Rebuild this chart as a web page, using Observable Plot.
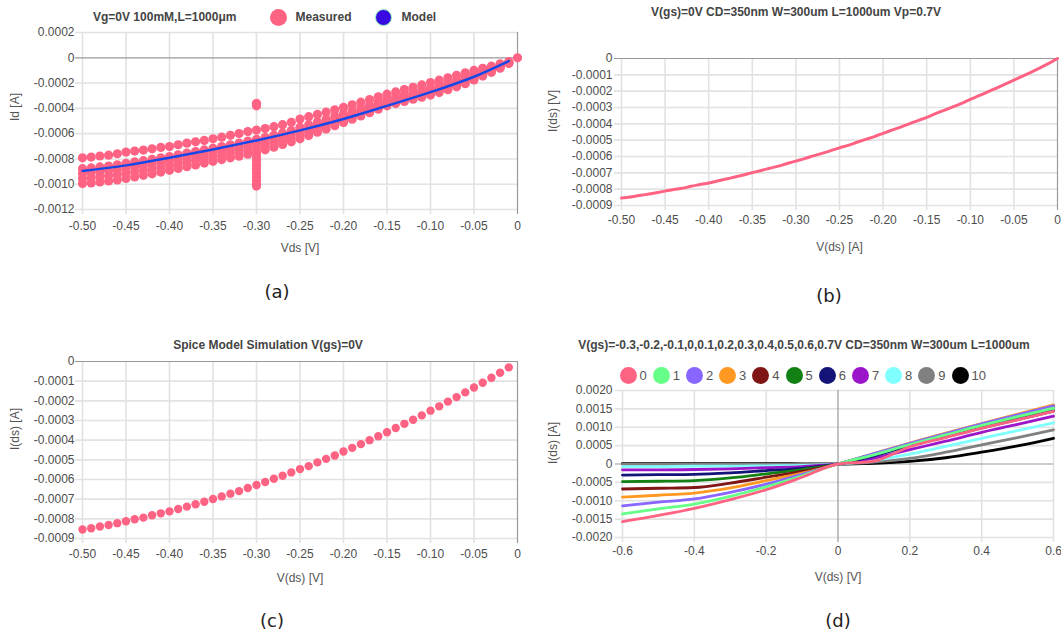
<!DOCTYPE html>
<html><head><meta charset="utf-8">
<script src="https://cdn.jsdelivr.net/npm/d3@7"></script>
<script src="https://cdn.jsdelivr.net/npm/@observablehq/plot@0.6"></script>
<style>
body{margin:0;background:#fff;}
#root{position:relative;width:1061px;height:637px;overflow:hidden;font-family:"Liberation Sans",Arial,sans-serif;}
.panel{position:absolute;}
.title{position:absolute;font:bold 12px "Liberation Sans",Arial,sans-serif;color:#444;white-space:nowrap;line-height:14px;}
.cap{position:absolute;font:18px "DejaVu Sans",sans-serif;color:#222;transform:translate(-50%,-50%);white-space:nowrap;}
.lg{position:absolute;display:flex;align-items:center;white-space:nowrap;font-size:13px;color:#555;}
.sw{display:inline-block;width:17px;height:17px;border-radius:50%;box-sizing:border-box;}
</style></head><body><div id="root"></div>
<script>
// ---------- Panel (a): measured sweeps and model ----------
const vds = [-0.50,-0.49,-0.48,-0.47,-0.46,-0.45,-0.44,-0.43,-0.42,-0.41,-0.40,-0.39,-0.38,-0.37,-0.36,-0.35,-0.34,-0.33,-0.32,-0.31,-0.30,-0.29,-0.28,-0.27,-0.26,-0.25,-0.24,-0.23,-0.22,-0.21,-0.20,-0.19,-0.18,-0.17,-0.16,-0.15,-0.14,-0.13,-0.12,-0.11,-0.10,-0.09,-0.08,-0.07,-0.06,-0.05,-0.04,-0.03,-0.02,-0.01];
const measTop = [-7.91e-4,-7.85e-4,-7.77e-4,-7.70e-4,-7.59e-4,-7.46e-4,-7.38e-4,-7.30e-4,-7.20e-4,-7.09e-4,-7.02e-4,-6.88e-4,-6.75e-4,-6.65e-4,-6.54e-4,-6.41e-4,-6.28e-4,-6.13e-4,-5.99e-4,-5.84e-4,-5.71e-4,-5.60e-4,-5.45e-4,-5.29e-4,-5.10e-4,-4.84e-4,-4.66e-4,-4.48e-4,-4.30e-4,-4.12e-4,-3.93e-4,-3.72e-4,-3.51e-4,-3.30e-4,-3.09e-4,-2.88e-4,-2.70e-4,-2.51e-4,-2.33e-4,-2.15e-4,-1.96e-4,-1.77e-4,-1.58e-4,-1.38e-4,-1.19e-4,-1.00e-4,-0.83e-4,-0.66e-4,-0.48e-4,-0.31e-4];
const meas2 = [-8.77e-4,-8.71e-4,-8.63e-4,-8.56e-4,-8.46e-4,-8.34e-4,-8.24e-4,-8.14e-4,-8.03e-4,-7.91e-4,-7.81e-4,-7.67e-4,-7.54e-4,-7.42e-4,-7.29e-4,-7.16e-4,-7.02e-4,-6.88e-4,-6.74e-4,-6.59e-4,-6.44e-4,-6.31e-4,-6.13e-4,-5.95e-4,-5.75e-4,-5.50e-4,-5.29e-4,-5.07e-4,-4.86e-4,-4.65e-4,-4.43e-4,-4.20e-4,-3.97e-4,-3.74e-4,-3.50e-4,-3.27e-4,-3.09e-4,-2.90e-4,-2.73e-4,-2.56e-4,-2.38e-4,-2.18e-4,-1.98e-4,-1.77e-4,-1.55e-4,-1.32e-4,-1.09e-4,-0.87e-4,-0.62e-4,-0.37e-4];
const meas3 = [-9.15e-4,-9.10e-4,-9.02e-4,-8.94e-4,-8.85e-4,-8.73e-4,-8.62e-4,-8.52e-4,-8.41e-4,-8.28e-4,-8.17e-4,-8.02e-4,-7.89e-4,-7.77e-4,-7.63e-4,-7.50e-4,-7.36e-4,-7.22e-4,-7.08e-4,-6.93e-4,-6.77e-4,-6.62e-4,-6.44e-4,-6.25e-4,-6.05e-4,-5.80e-4,-5.57e-4,-5.34e-4,-5.11e-4,-4.88e-4,-4.66e-4,-4.42e-4,-4.17e-4,-3.93e-4,-3.69e-4,-3.44e-4,-3.26e-4,-3.08e-4,-2.91e-4,-2.74e-4,-2.56e-4,-2.37e-4,-2.16e-4,-1.94e-4,-1.71e-4,-1.46e-4,-1.21e-4,-0.96e-4,-0.69e-4,-0.40e-4];
const meas4 = [-9.54e-4,-9.49e-4,-9.41e-4,-9.33e-4,-9.25e-4,-9.13e-4,-9.01e-4,-8.90e-4,-8.78e-4,-8.65e-4,-8.52e-4,-8.38e-4,-8.25e-4,-8.11e-4,-7.97e-4,-7.83e-4,-7.70e-4,-7.55e-4,-7.42e-4,-7.26e-4,-7.10e-4,-6.94e-4,-6.75e-4,-6.55e-4,-6.34e-4,-6.10e-4,-5.85e-4,-5.61e-4,-5.36e-4,-5.12e-4,-4.88e-4,-4.63e-4,-4.38e-4,-4.13e-4,-3.87e-4,-3.62e-4,-3.44e-4,-3.26e-4,-3.09e-4,-2.93e-4,-2.75e-4,-2.55e-4,-2.34e-4,-2.12e-4,-1.88e-4,-1.60e-4,-1.33e-4,-1.05e-4,-0.75e-4,-0.42e-4];
const measBottom = [-9.95e-4,-9.90e-4,-9.82e-4,-9.74e-4,-9.66e-4,-9.55e-4,-9.42e-4,-9.30e-4,-9.18e-4,-9.04e-4,-8.90e-4,-8.75e-4,-8.62e-4,-8.48e-4,-8.33e-4,-8.19e-4,-8.05e-4,-7.91e-4,-7.78e-4,-7.62e-4,-7.45e-4,-7.28e-4,-7.07e-4,-6.86e-4,-6.65e-4,-6.41e-4,-6.15e-4,-5.89e-4,-5.63e-4,-5.37e-4,-5.12e-4,-4.86e-4,-4.60e-4,-4.34e-4,-4.07e-4,-3.80e-4,-3.62e-4,-3.45e-4,-3.28e-4,-3.12e-4,-2.95e-4,-2.75e-4,-2.53e-4,-2.30e-4,-2.05e-4,-1.75e-4,-1.45e-4,-1.15e-4,-0.82e-4,-0.45e-4];
// extra measured points: the long column at -0.30 V and the origin point
const measExtraV = [-0.30,-0.30,-0.30,-0.30,-0.30,-0.30,-0.30,-0.30,-0.30,-0.30,-0.30,-0.30,0];
const measExtraI = [-7.6e-4,-7.9e-4,-8.2e-4,-8.5e-4,-8.8e-4,-9.1e-4,-9.4e-4,-9.7e-4,-10.0e-4,-10.15e-4,-3.6e-4,-3.8e-4,0];
const modelV = [-0.50,-0.45,-0.40,-0.35,-0.30,-0.25,-0.20,-0.15,-0.10,-0.05,-0.01];
const modelI = [-8.95e-4,-8.51e-4,-7.91e-4,-7.25e-4,-6.54e-4,-5.74e-4,-4.84e-4,-3.80e-4,-2.72e-4,-1.50e-4,-0.26e-4];

// ---------- Panels (b) and (c): spice model simulation ----------
const simV = vds;
const simI = [-8.54e-4,-8.48e-4,-8.39e-4,-8.31e-4,-8.22e-4,-8.12e-4,-8.02e-4,-7.94e-4,-7.82e-4,-7.72e-4,-7.62e-4,-7.50e-4,-7.38e-4,-7.26e-4,-7.13e-4,-6.99e-4,-6.86e-4,-6.72e-4,-6.59e-4,-6.43e-4,-6.28e-4,-6.13e-4,-5.96e-4,-5.81e-4,-5.64e-4,-5.47e-4,-5.32e-4,-5.13e-4,-4.95e-4,-4.78e-4,-4.58e-4,-4.39e-4,-4.20e-4,-4.00e-4,-3.80e-4,-3.60e-4,-3.38e-4,-3.17e-4,-2.96e-4,-2.74e-4,-2.50e-4,-2.28e-4,-2.04e-4,-1.81e-4,-1.57e-4,-1.32e-4,-1.08e-4,-0.83e-4,-0.57e-4,-0.30e-4];
const lineEndV = 0, lineEndI = 0;

// ---------- Panel (d): family of curves ----------
const dV = [-0.6,-0.5,-0.4,-0.3,-0.2,-0.1,0,0.1,0.2,0.3,0.4,0.5,0.6];
const dSeriesNames = ["0","1","2","3","4","5","6","7","8","9","10"];
const dColors = ["#ff6384","#66ff88","#8866ff","#ff9922","#7f1515","#138013","#131378","#9b16c8","#80ffff","#808080","#000000"];
const d0  = [-15.7e-4,-14.0e-4,-12.1e-4,-9.7e-4,-7.0e-4,-3.6e-4,0,0.8e-4,4.7e-4,7.2e-4,9.7e-4,12.0e-4,14.3e-4];
const d1  = [-13.6e-4,-12.2e-4,-10.9e-4,-8.8e-4,-6.2e-4,-3.2e-4,0,2.5e-4,5.3e-4,7.9e-4,10.5e-4,12.9e-4,15.2e-4];
const d2  = [-11.4e-4,-10.4e-4,-9.5e-4,-7.7e-4,-5.5e-4,-2.8e-4,0,2.8e-4,5.6e-4,8.3e-4,10.9e-4,13.4e-4,15.8e-4];
const d3  = [-9.0e-4,-8.5e-4,-7.9e-4,-6.5e-4,-4.5e-4,-2.5e-4,0,2.8e-4,5.7e-4,8.4e-4,11.0e-4,13.6e-4,16.1e-4];
const d4  = [-6.8e-4,-6.6e-4,-6.4e-4,-5.2e-4,-3.6e-4,-2.0e-4,0,2.7e-4,5.5e-4,8.2e-4,10.8e-4,13.3e-4,15.7e-4];
const d5  = [-4.8e-4,-4.7e-4,-4.5e-4,-3.8e-4,-2.7e-4,-1.5e-4,0,2.6e-4,5.3e-4,7.9e-4,10.4e-4,12.8e-4,15.1e-4];
const d6  = [-3.0e-4,-2.9e-4,-2.8e-4,-2.4e-4,-1.8e-4,-1.2e-4,0,2.2e-4,5.0e-4,7.4e-4,9.8e-4,12.1e-4,14.4e-4];
const d7  = [-1.6e-4,-1.6e-4,-1.5e-4,-1.3e-4,-1.0e-4,-0.7e-4,0,1.6e-4,3.9e-4,6.2e-4,8.6e-4,10.8e-4,13.0e-4];
const d8  = [-0.7e-4,-0.7e-4,-0.6e-4,-0.6e-4,-0.5e-4,-0.4e-4,0,1.0e-4,2.7e-4,4.8e-4,7.0e-4,9.1e-4,11.2e-4];
const d9  = [-0.1e-4,-0.1e-4,-0.1e-4,-0.1e-4,-0.1e-4,-0.1e-4,0,0.5e-4,1.5e-4,3.2e-4,5.2e-4,7.2e-4,9.3e-4];
const d10 = [0.1e-4,0.1e-4,0.1e-4,0.1e-4,0.1e-4,0.05e-4,0,0.2e-4,0.7e-4,1.7e-4,3.2e-4,4.9e-4,7.0e-4];
const dSeries = [d0,d1,d2,d3,d4,d5,d6,d7,d8,d9,d10];

// ---------- ticks ----------
const ticksV05 = [-0.50,-0.45,-0.40,-0.35,-0.30,-0.25,-0.20,-0.15,-0.10,-0.05,0];
const ticksIa = [0.0002,0,-0.0002,-0.0004,-0.0006,-0.0008,-0.0010,-0.0012];
const ticksIb = [0,-0.0001,-0.0002,-0.0003,-0.0004,-0.0005,-0.0006,-0.0007,-0.0008,-0.0009];
const ticksVd = [-0.6,-0.4,-0.2,0,0.2,0.4,0.6];
const ticksId = [0.0020,0.0015,0.0010,0.0005,0,-0.0005,-0.0010,-0.0015,-0.0020];

// ---------- texts ----------
const titleA = "Vg=0V 100mM,L=1000μm";
const titleB = "V(gs)=0V CD=350nm W=300um L=1000um Vp=0.7V";
const titleC = "Spice Model Simulation V(gs)=0V";
const titleD = "V(gs)=-0.3,-0.2,-0.1,0,0.1,0.2,0.3,0.4,0.5,0.6,0.7V CD=350nm W=300um L=1000um";

const PINK = "#ff6384";
const fmt2 = d => d === 0 ? "0" : d.toFixed(2);
const fmt1 = d => d === 0 ? "0" : d.toFixed(1);
const fmt4 = d => d === 0 ? "0" : d.toFixed(4);

const root = document.getElementById("root");

function panel(o) {
  const grid = "#e2e2e2";
  const zero = "#999";
  const svg = Plot.plot({
    width: o.width, height: o.height,
    marginLeft: o.mL, marginRight: o.mR, marginTop: o.mT, marginBottom: o.mB,
    x: {type: "linear", domain: o.xDomain},
    y: {type: "linear", domain: o.yDomain},
    style: {fontFamily: "'Liberation Sans', Arial, sans-serif", fontSize: "12px", color: "#4d4d4d", background: "transparent", overflow: "visible"},
    marks: [
      Plot.ruleX(o.xTicks.filter(d => d !== 0), {stroke: grid, strokeWidth: 1.6, insetBottom: -5}),
      Plot.ruleY(o.yTicks.filter(d => d !== 0), {stroke: grid, strokeWidth: 1.6, insetLeft: -7}),
      Plot.ruleX(o.xTicks.filter(d => d === 0), {stroke: zero, strokeWidth: 1.2, insetBottom: -5}),
      Plot.ruleY(o.yTicks.filter(d => d === 0), {stroke: zero, strokeWidth: 1.2, insetLeft: -7}),
      Plot.axisX({ticks: o.xTicks, tickSize: 0, tickPadding: o.xPad, tickFormat: o.xFmt, label: null}),
      Plot.axisY({ticks: o.yTicks, tickSize: 0, tickPadding: o.yPad, tickFormat: o.yFmt, label: null}),
      Plot.text([o.xTitle], {text: d => d, frameAnchor: "bottom", dy: o.xTitleDy, lineAnchor: "middle", fill: "#555"}),
      Plot.text([o.yTitle], {text: d => d, frameAnchor: "left", dx: o.yTitleDx, rotate: -90, fill: "#555"}),
      ...o.marks
    ]
  });
  const wrap = document.createElement("div");
  wrap.className = "panel";
  wrap.style.left = o.left + "px";
  wrap.style.top = o.top + "px";
  wrap.appendChild(svg);
  root.appendChild(wrap);
}

function addDiv(cls, text, css) {
  const el = document.createElement("div");
  el.className = cls;
  if (text != null) el.textContent = text;
  Object.assign(el.style, css);
  root.appendChild(el);
  return el;
}
function addLegendItem(x, y, color, label, extra, stroke) {
  const item = addDiv("lg", null, {left: (x - 8.5) + "px", top: (y - 9) + "px", height: "18px"});
  const sw = document.createElement("span");
  sw.className = "sw";
  sw.style.background = color;
  if (stroke) sw.style.border = "1px solid " + stroke;
  const t = document.createElement("span");
  t.textContent = label;
  t.style.marginLeft = (extra && extra.gap != null ? extra.gap : 3) + "px";
  if (extra && extra.bold) { t.style.fontWeight = "bold"; t.style.fontSize = "12px"; t.style.color = "#444"; }
  item.appendChild(sw); item.appendChild(t);
}

// ----- (a) -----
const measData = [];
for (const arr of [measTop, meas2, meas3, meas4, measBottom]) arr.forEach((v, i) => measData.push({v: vds[i], i: v}));
measExtraV.forEach((v, k) => measData.push({v, i: measExtraI[k]}));
const modelData = modelV.map((v, k) => ({v, i: modelI[k]}));
panel({
  left: 0, top: 0, width: 530, height: 260, mL: 82, mR: 13, mT: 32, mB: 51,
  xDomain: [-0.5, 0], yDomain: [-0.0012, 0.0002], xTicks: ticksV05, yTicks: ticksIa,
  xFmt: fmt2, yFmt: fmt4, xPad: 12, yPad: 8,
  xTitle: "Vds [V]", yTitle: "Id [A]", xTitleDy: 39, yTitleDx: -67,
  marks: [
    Plot.dot(measData, {x: "v", y: "i", r: 4.6, fill: PINK}),
    Plot.line(modelData, {x: "v", y: "i", stroke: "#1747e6", strokeWidth: 2.5, curve: "monotone-x"})
  ]
});
addDiv("title", titleA, {left: "93px", top: "10px"});
addLegendItem(278, 17, PINK, "Measured", {bold: true, gap: 9});
addLegendItem(383, 17, "#3a0be0", "Model", {bold: true, gap: 10}, "#8fffb0");

// ----- (b) -----
const bData = simV.map((v, k) => ({v, i: simI[k]})).concat([{v: lineEndV, i: lineEndI}]);
panel({
  left: 530, top: 0, width: 531, height: 260, mL: 91, mR: 4, mT: 58, mB: 55,
  xDomain: [-0.5, 0], yDomain: [-0.0009, 0], xTicks: ticksV05, yTicks: ticksIb,
  xFmt: fmt2, yFmt: fmt4, xPad: 10, yPad: 9,
  xTitle: "V(ds) [A]", yTitle: "I(ds) [V]", xTitleDy: 42, yTitleDx: -68,
  marks: [
    Plot.line(bData, {x: "v", y: "i", stroke: PINK, strokeWidth: 3, curve: "monotone-x"})
  ]
});
addDiv("title", titleB, {left: "796px", top: "5px", transform: "translateX(-50%)"});

// ----- (c) -----
const cData = simV.map((v, k) => ({v, i: simI[k]}));
panel({
  left: 0, top: 330, width: 530, height: 260, mL: 82, mR: 13, mT: 31, mB: 52,
  xDomain: [-0.5, 0], yDomain: [-0.0009, 0], xTicks: ticksV05, yTicks: ticksIb,
  xFmt: fmt2, yFmt: fmt4, xPad: 11, yPad: 8,
  xTitle: "V(ds) [V]", yTitle: "I(ds) [A]", xTitleDy: 40, yTitleDx: -67,
  marks: [
    Plot.dot(cData, {x: "v", y: "i", r: 4.2, fill: PINK})
  ]
});
addDiv("title", titleC, {left: "268px", top: "338px", transform: "translateX(-50%)"});

// ----- (d) -----
const dMarks = [];
for (let s = dSeries.length - 1; s >= 0; s--) {
  const data = dV.map((v, k) => ({v, i: dSeries[s][k]}));
  dMarks.push(Plot.line(data, {x: "v", y: "i", stroke: dColors[s], strokeWidth: 2.8, curve: "monotone-x"}));
}
panel({
  left: 530, top: 330, width: 531, height: 260, mL: 92, mR: 8, mT: 60, mB: 53,
  xDomain: [-0.6, 0.6], yDomain: [-0.002, 0.002], xTicks: ticksVd, yTicks: ticksId,
  xFmt: fmt1, yFmt: fmt4, xPad: 9, yPad: 10,
  xTitle: "V(ds) [V]", yTitle: "I(ds) [A]", xTitleDy: 40, yTitleDx: -69,
  marks: dMarks
});
addDiv("title", titleD, {left: "804px", top: "338px", transform: "translateX(-50%)"});
dSeriesNames.forEach((name, k) => addLegendItem(628 + k * 33.2, 375, dColors[k], name, {gap: 3}));

// ----- captions -----
addDiv("cap", "(a)", {left: "277px", top: "291px"});
addDiv("cap", "(b)", {left: "829px", top: "295px"});
addDiv("cap", "(c)", {left: "272px", top: "620px"});
addDiv("cap", "(d)", {left: "838px", top: "620px"});
</script></body></html>
